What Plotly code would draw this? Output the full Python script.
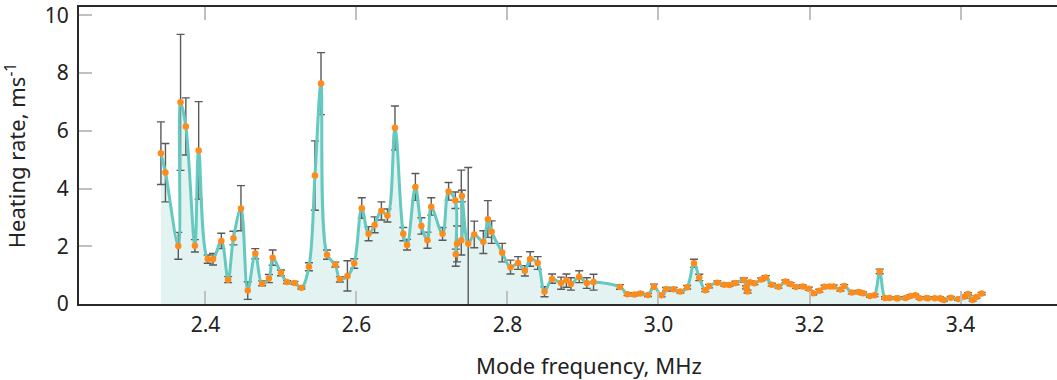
import plotly.graph_objects as go

freq = [2.341, 2.347, 2.364, 2.367, 2.374, 2.386, 2.391, 2.403, 2.410, 2.421,
        2.430, 2.437, 2.447, 2.456, 2.466, 2.475, 2.484, 2.489, 2.500, 2.508,
        2.518, 2.527, 2.537, 2.545, 2.553, 2.561, 2.572, 2.578, 2.588, 2.597,
        2.607, 2.616, 2.624, 2.633, 2.641, 2.651, 2.662, 2.667, 2.678, 2.686,
        2.694, 2.699, 2.714, 2.722, 2.731, 2.7315, 2.7332, 2.7388, 2.7397, 2.748,
        2.756, 2.768, 2.774, 2.779, 2.793, 2.804, 2.814, 2.823, 2.830, 2.840,
        2.849, 2.859, 2.871, 2.878, 2.884, 2.895, 2.905, 2.914, 2.949, 2.959,
        2.968, 2.976, 2.986, 2.994, 3.004, 3.010, 3.020, 3.029, 3.038, 3.047,
        3.054, 3.062, 3.067, 3.078, 3.087, 3.094, 3.102, 3.113, 3.116, 3.118,
        3.121, 3.127, 3.136, 3.142, 3.150, 3.159, 3.168, 3.175, 3.182, 3.191,
        3.199, 3.205, 3.213, 3.220, 3.227, 3.232, 3.241, 3.246, 3.256, 3.265,
        3.271, 3.280, 3.286, 3.293, 3.300, 3.306, 3.315, 3.317, 3.327, 3.334,
        3.340, 3.346, 3.355, 3.357, 3.366, 3.373, 3.378, 3.387, 3.397, 3.405,
        3.410, 3.416, 3.421, 3.428]

rate = [5.22, 4.56, 2.01, 6.99, 6.15, 2.02, 5.32, 1.56, 1.56, 2.18,
        0.84, 2.28, 3.31, 0.47, 1.75, 0.70, 0.88, 1.60, 1.08, 0.76,
        0.73, 0.56, 1.29, 4.45, 7.64, 1.71, 1.36, 0.87, 0.97, 1.41,
        3.32, 2.43, 2.74, 3.23, 3.07, 6.11, 2.43, 2.04, 4.05, 2.70,
        2.21, 3.37, 2.43, 3.90, 3.59, 1.72, 2.09, 2.21, 3.74, 2.09,
        2.41, 2.16, 2.94, 2.50, 1.78, 1.27, 1.42, 1.15, 1.56, 1.42,
        0.43, 0.87, 0.73, 0.82, 0.69, 0.94, 0.73, 0.76, 0.59, 0.34,
        0.33, 0.36, 0.31, 0.60, 0.30, 0.51, 0.51, 0.43, 0.58, 1.41,
        0.92, 0.48, 0.62, 0.74, 0.67, 0.66, 0.73, 0.83, 0.58, 0.43,
        0.75, 0.72, 0.85, 0.92, 0.67, 0.60, 0.78, 0.69, 0.59, 0.61,
        0.53, 0.37, 0.46, 0.60, 0.61, 0.61, 0.50, 0.62, 0.40, 0.42,
        0.37, 0.28, 0.30, 1.13, 0.21, 0.21, 0.20, 0.20, 0.21, 0.28,
        0.30, 0.20, 0.21, 0.20, 0.20, 0.20, 0.14, 0.22, 0.17, 0.25,
        0.35, 0.14, 0.24, 0.36]

err_plus = [1.09, 1.00, 0.47, 2.35, 0.99, 0.21, 1.69, 0.14, 0.19, 0.27,
            0.11, 0.24, 0.79, 0.30, 0.17, 0.10, 0.14, 0.27, 0.10, 0.05,
            0.05, 0.04, 0.14, 1.20, 1.07, 0.16, 0.09, 0.08, 0.53, 0.16,
            0.36, 0.25, 0.28, 0.31, 0.22, 0.75, 0.22, 0.20, 0.47, 0.29,
            0.28, 0.31, 0.22, 0.31, 0.29, 0.18, 0.61, 2.43, 0.20, 2.64,
            0.46, 0.38, 0.64, 0.38, 0.32, 0.25, 0.22, 0.18, 0.25, 0.22,
            0.17, 0.17, 0.20, 0.22, 0.22, 0.21, 0.18, 0.27, 0.08, 0.05,
            0.05, 0.05, 0.05, 0.09, 0.05, 0.06, 0.06, 0.05, 0.06, 0.14,
            0.11, 0.05, 0.06, 0.06, 0.05, 0.05, 0.06, 0.07, 0.05, 0.05,
            0.06, 0.05, 0.05, 0.06, 0.05, 0.05, 0.05, 0.05, 0.05, 0.05,
            0.05, 0.05, 0.05, 0.05, 0.05, 0.05, 0.05, 0.05, 0.05, 0.05,
            0.05, 0.04, 0.04, 0.08, 0.04, 0.04, 0.04, 0.04, 0.04, 0.04,
            0.04, 0.04, 0.04, 0.04, 0.04, 0.04, 0.04, 0.04, 0.04, 0.04,
            0.04, 0.04, 0.04, 0.04]

err_minus = [1.08, 1.02, 0.46, 2.36, 0.99, 0.22, 1.69, 0.15, 0.21, 0.26,
             0.10, 0.23, 0.77, 0.31, 0.18, 0.07, 0.14, 0.26, 0.10, 0.05,
             0.05, 0.04, 0.14, 1.20, 1.08, 0.16, 0.08, 0.11, 0.52, 0.17,
             0.35, 0.24, 0.27, 0.32, 0.23, 0.78, 0.24, 0.17, 0.46, 0.28,
             0.28, 0.29, 0.22, 0.30, 0.28, 0.41, 0.63, 0.51, 0.20, 2.30,
             0.46, 0.41, 0.63, 0.40, 0.32, 0.23, 0.22, 0.18, 0.25, 0.22,
             0.18, 0.15, 0.22, 0.24, 0.21, 0.20, 0.19, 0.28, 0.08, 0.05,
             0.05, 0.05, 0.05, 0.09, 0.05, 0.06, 0.06, 0.05, 0.06, 0.14,
             0.11, 0.05, 0.06, 0.06, 0.05, 0.05, 0.06, 0.07, 0.05, 0.05,
             0.06, 0.05, 0.05, 0.06, 0.05, 0.05, 0.05, 0.05, 0.05, 0.05,
             0.05, 0.05, 0.05, 0.05, 0.05, 0.05, 0.05, 0.05, 0.05, 0.05,
             0.05, 0.04, 0.04, 0.08, 0.04, 0.04, 0.04, 0.04, 0.04, 0.04,
             0.04, 0.04, 0.04, 0.04, 0.04, 0.04, 0.04, 0.04, 0.04, 0.04,
             0.04, 0.04, 0.04, 0.04]

x_ticks = [2.4, 2.6, 2.8, 3.0, 3.2, 3.4]
x_tick_text = ["2.4", "2.6", "2.8", "3.0", "3.2", "3.4"]
y_ticks = [0, 2, 4, 6, 8, 10]

FONT = "Noto Sans"
TXT = "#222222"

fig = go.Figure()

# filled area under spline
fig.add_trace(go.Scatter(
    x=freq, y=rate, mode="lines",
    line=dict(color="rgba(0,0,0,0)", width=0, shape="spline", smoothing=1),
    fill="tozeroy", fillcolor="#e2f3f1", hoverinfo="skip", showlegend=False,
))

# error bars
fig.add_trace(go.Scatter(
    x=freq, y=rate, mode="markers",
    marker=dict(size=1, color="rgba(0,0,0,0)"),
    error_y=dict(type="data", array=err_plus, arrayminus=err_minus,
                 color="#5a5a5a", thickness=1.4, width=4),
    showlegend=False, hoverinfo="skip",
))

# spline line
fig.add_trace(go.Scatter(
    x=freq, y=rate, mode="lines",
    line=dict(color="#66c9bf", width=3, shape="spline", smoothing=1),
    showlegend=False,
))

# markers
fig.add_trace(go.Scatter(
    x=freq, y=rate, mode="markers",
    marker=dict(size=6.5, color="#ff8c1a", line=dict(width=0)),
    showlegend=False,
))

fig.update_layout(
    width=1057, height=380,
    margin=dict(l=79, r=0, t=7, b=76),
    paper_bgcolor="white", plot_bgcolor="white",
    font=dict(family=FONT, size=21, color=TXT),
    xaxis=dict(
        range=[2.2325, 3.5278],
        tickvals=x_ticks, ticktext=x_tick_text,
        ticks="inside", ticklen=13, tickcolor="#c0c0c0", tickwidth=1.5,
        showline=True, linecolor="#2a2a2a", linewidth=2, mirror="ticks",
        showgrid=False, zeroline=False,
        tickfont=dict(family=FONT, size=21, color=TXT),
        ticklabelstandoff=1,
    ),
    yaxis=dict(
        range=[0, 10.29],
        tickvals=y_ticks,
        ticks="inside", ticklen=13, tickcolor="#c0c0c0", tickwidth=1.5,
        showline=True, linecolor="#2a2a2a", linewidth=2, mirror=False,
        showgrid=False, zeroline=False,
        tickfont=dict(family=FONT, size=21, color=TXT),
        ticklabelstandoff=4,
        title=dict(text="Heating rate, ms<sup>-1</sup>",
                   font=dict(family=FONT, size=22, color=TXT), standoff=16),
    ),
    annotations=[dict(
        text="Mode frequency, MHz", xref="paper", yref="paper",
        x=0.5215, y=-0.205, yanchor="middle", xanchor="center",
        showarrow=False, font=dict(family=FONT, size=22, color=TXT),
    )],
)

fig.write_html("out.html")
